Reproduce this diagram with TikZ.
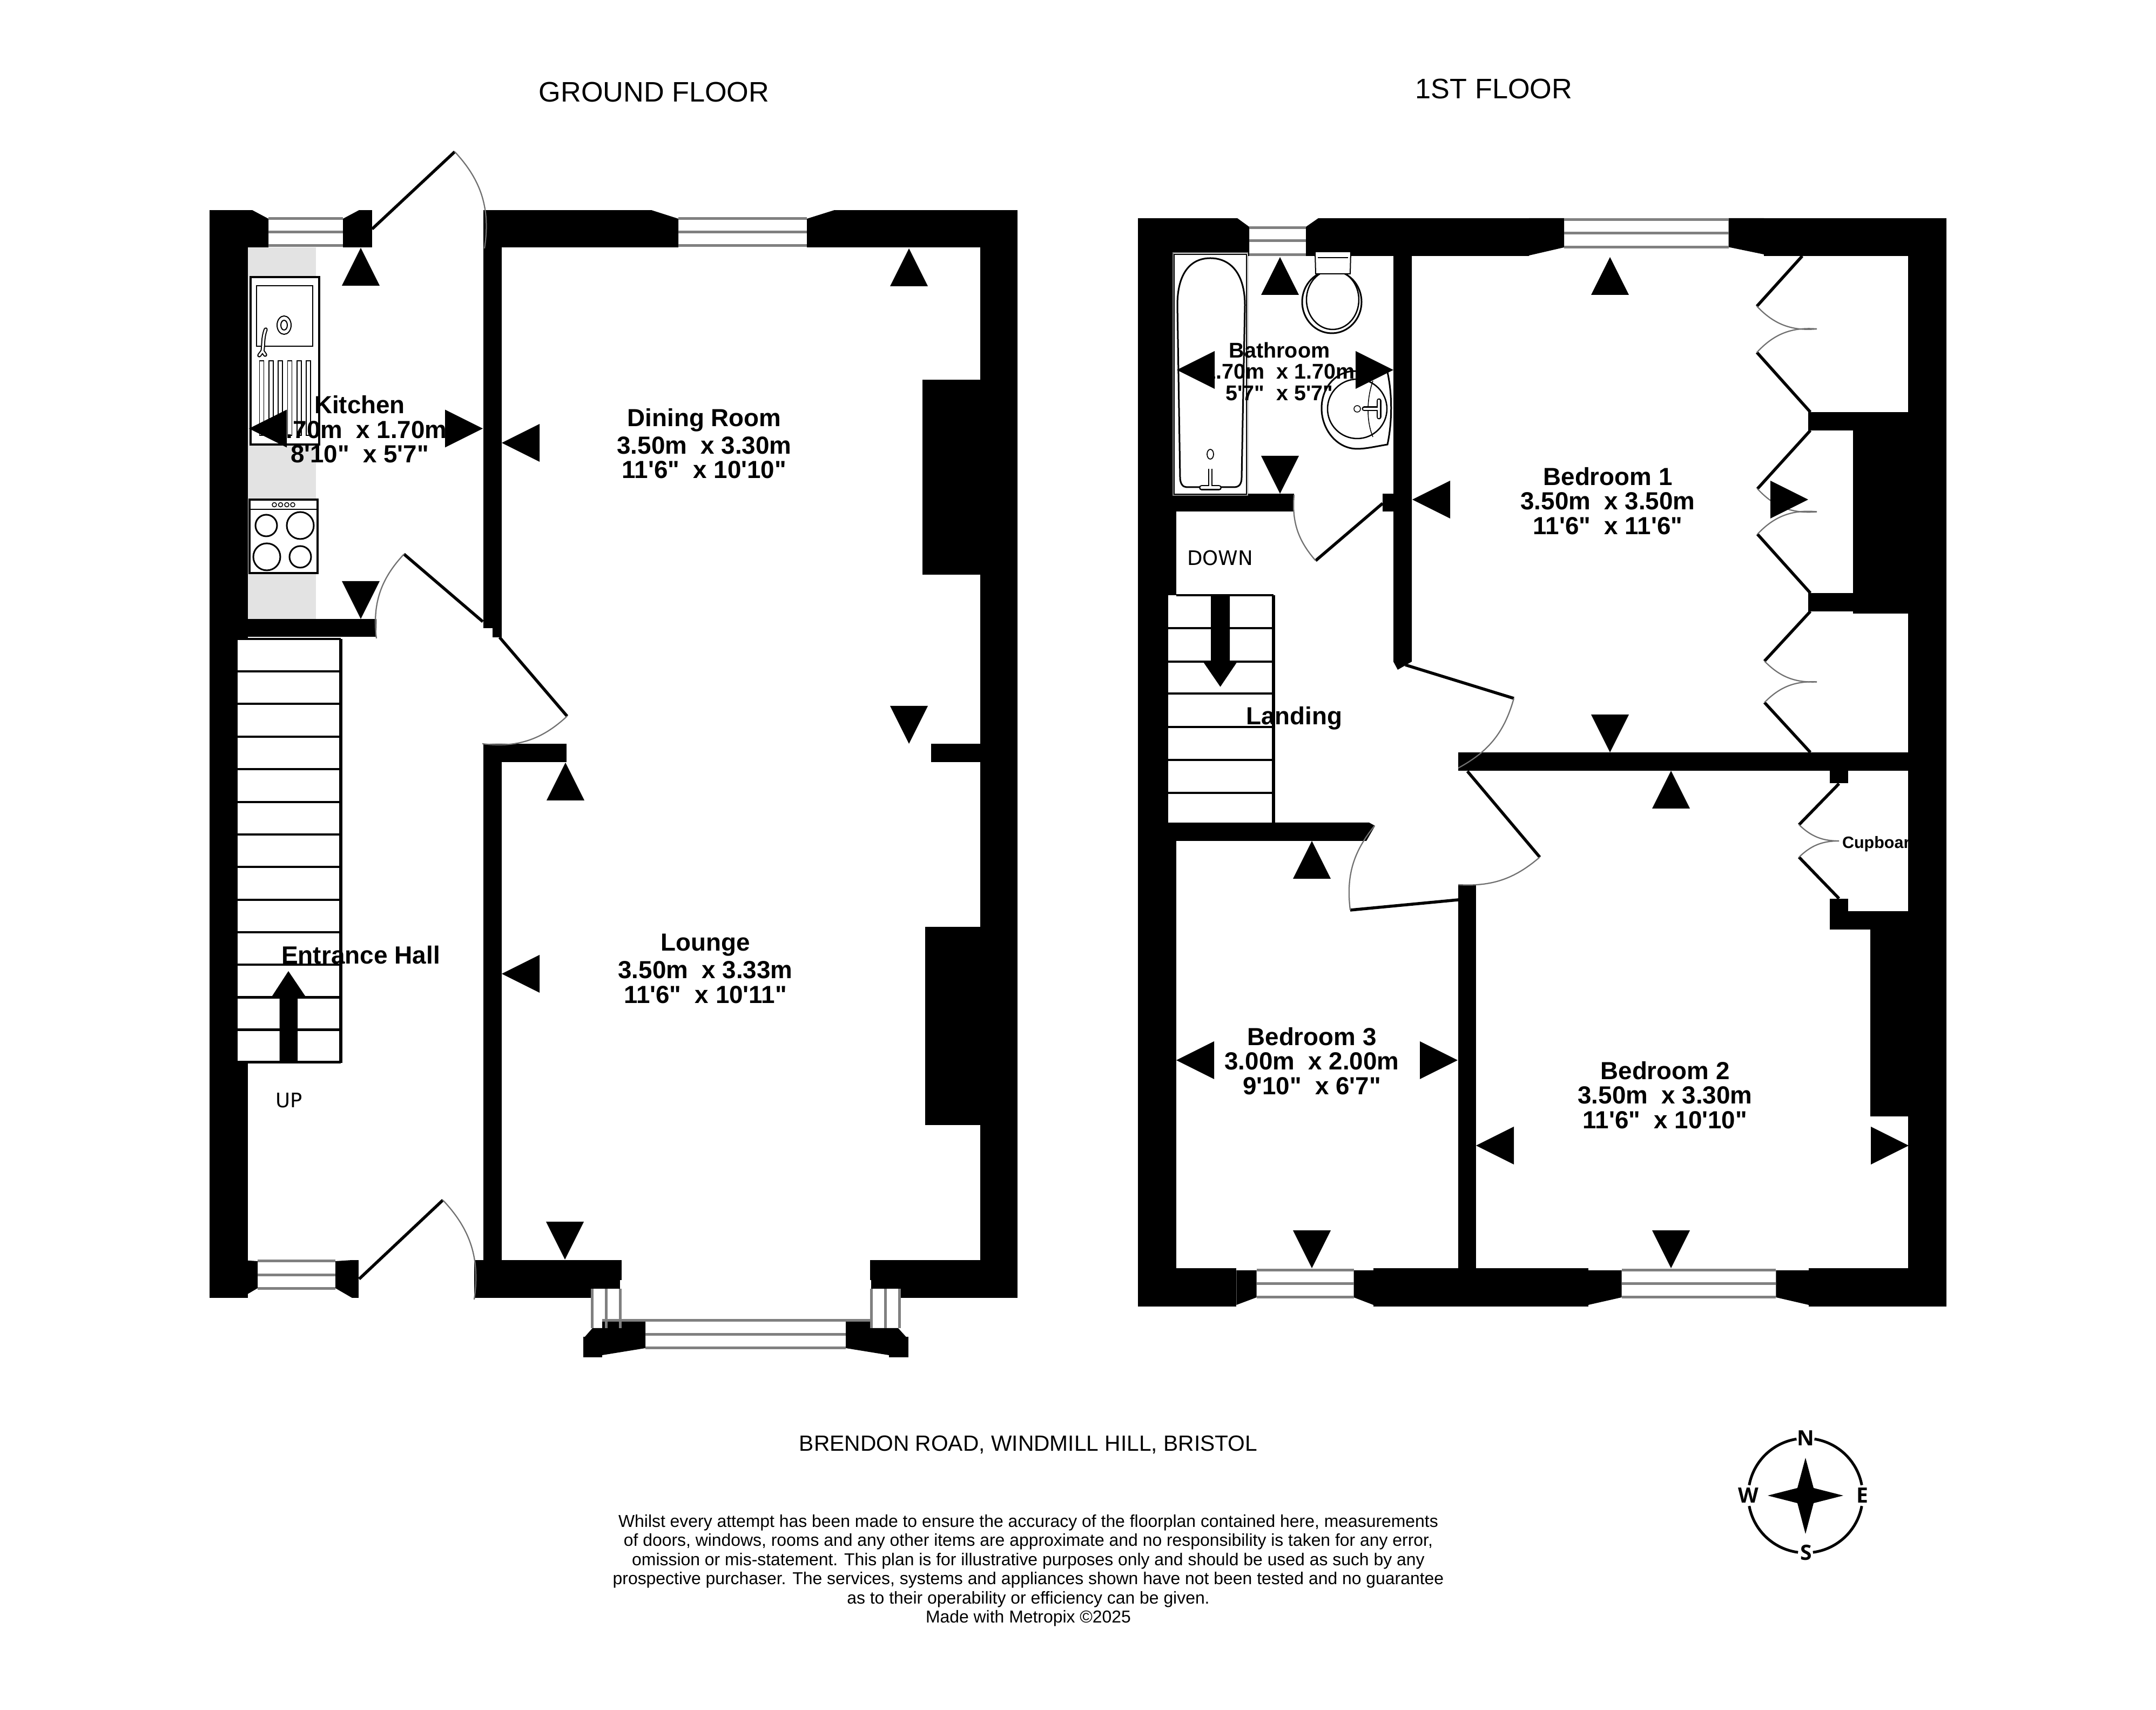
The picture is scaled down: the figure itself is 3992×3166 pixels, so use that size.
\documentclass[tikz,border=0pt]{standalone}
\usepackage{fontspec}
\newfontfamily\labfont{Liberation Sans}
\newfontfamily\stairfont{DejaVu Sans}
\newfontfamily\compfont{Open Sans}
\newcommand\ls{\rule[-0.18em]{0pt}{0.97em}}
\newcommand\markU[2]{\fill (#1,#2) -- (#1-35,#2+70) -- (#1+35,#2+70) -- cycle;}
\newcommand\markD[2]{\fill (#1,#2) -- (#1-35,#2-70) -- (#1+35,#2-70) -- cycle;}
\newcommand\markL[2]{\fill (#1,#2) -- (#1+70,#2-35) -- (#1+70,#2+35) -- cycle;}
\newcommand\markR[2]{\fill (#1,#2) -- (#1-70,#2-35) -- (#1-70,#2+35) -- cycle;}
\newcommand\wrect[4]{\fill (#1,#3) rectangle (#2,#4);}
\definecolor{winGrey}{HTML}{808080}
\definecolor{swingGrey}{HTML}{707070}
\definecolor{worktop}{HTML}{E3E3E3}
\tikzset{
  winline/.style={draw=winGrey,line width=1pt},
  leafline/.style={draw=black,line width=1.1pt},
  swingline/.style={draw=swingGrey,line width=0.45pt},
  treadline/.style={draw=black,line width=0.85pt},
  stringer/.style={draw=black,line width=1.1pt},
  fixture/.style={draw=black,fill=white,line width=0.8pt},
  roomlab/.style={font=\labfont\bfseries\fontsize{9.15pt}{9.1pt}\selectfont,align=center,inner sep=0pt},
  bathlab/.style={font=\labfont\bfseries\fontsize{7.9pt}{7.9pt}\selectfont,align=center,inner sep=0pt},
  titlelab/.style={font=\labfont\fontsize{10.45pt}{12pt}\selectfont,inner sep=0pt,anchor=base},
  steplab/.style={font=\stairfont\fontsize{7.4pt}{9pt}\selectfont,inner sep=0pt,anchor=base},
  complab/.style={font=\compfont\bfseries\fontsize{7.8pt}{9pt}\selectfont,inner sep=0pt},
}
\begin{document}
\begin{tikzpicture}[x=0.2pt,y=-0.2pt]
\useasboundingbox (0,0) rectangle (3992,3166);
\fill[white] (0,0) rectangle (3992,3166);
% ---- kitchen worktop
\fill[worktop] (459,458) rectangle (585,1146);
% ---- cupboard label, cut by the wall
\node[font=\labfont\bfseries\fontsize{6.1pt}{7pt}\selectfont,inner sep=0pt,anchor=base west] (cupboard) at (3410,1571) {Cupboard};
% ---- GROUND FLOOR walls
\wrect{388}{459}{389}{2403}
\wrect{388}{467}{389}{458}
\fill (467,389) -- (497,405) -- (497,458) -- (467,458) -- cycle;
\fill (635,405) -- (665,389) -- (665,458) -- (635,458) -- cycle;
\wrect{665}{689}{389}{458}
\wrect{388}{446.5}{2333}{2403}
\fill (446.5,2333) -- (477,2335) -- (477,2385) -- (446.5,2403) -- cycle;
\fill (621,2335) -- (652,2333) -- (652,2403) -- (621,2385) -- cycle;
\wrect{652}{663.5}{2333}{2403}
\wrect{895}{1206}{389}{458}
\fill (1206,389) -- (1256,405) -- (1256,458) -- (1206,458) -- cycle;
\fill (1494,405) -- (1545,389) -- (1545,458) -- (1494,458) -- cycle;
\wrect{1545}{1884}{389}{458}
\wrect{895}{929}{389}{1163}
\wrect{912}{929}{1163}{1180}
\wrect{459}{697}{1146}{1179}
\wrect{895}{1049}{1377}{1411}
\wrect{895}{929}{1377}{2333}
\wrect{878}{1150.5}{2333}{2370}
\wrect{878}{1094}{2333}{2403}
\wrect{1815}{1884}{389}{2403}
\wrect{1724}{1815}{1377}{1411}
\wrect{1708}{1815}{703}{1064}
\wrect{1713}{1815}{1716}{2083}
\wrect{1611}{1884}{2333}{2370}
\wrect{1667}{1884}{2333}{2403}
% bay
\wrect{1094.4}{1148}{2370}{2386}
\wrect{1613}{1667}{2370}{2386}
\fill (1097,2459) -- (1115,2459) -- (1115,2475) -- (1083,2475) -- cycle;
\wrect{1080}{1115}{2475}{2513}
\fill (1115,2445) -- (1195,2445) -- (1195,2496) -- (1115,2509) -- cycle;
\fill (1566,2445) -- (1612,2445) -- (1612,2475) -- (1646,2475) -- (1646,2509) -- (1566,2496) -- cycle;
\wrect{1646}{1682}{2475}{2513}
\fill (1612,2459) -- (1663,2459) -- (1677.5,2475) -- (1612,2475) -- cycle;
% ---- GROUND FLOOR windows
\foreach \yy in {405,430,455} \draw[winline] (497,\yy) -- (635,\yy);
\foreach \yy in {405,430,455} \draw[winline] (1256,\yy) -- (1494,\yy);
\foreach \yy in {2335,2361,2386} \draw[winline] (477,\yy) -- (621,\yy);
\draw[winline] (1115,2445) -- (1612,2445);
\foreach \yy in {2471,2496} \draw[winline] (1195,\yy) -- (1566,\yy);
\foreach \xx in {1096,1122.4,1148} \draw[winline] (\xx,2386) -- (\xx,2459);
\foreach \xx in {1613,1639,1665} \draw[winline] (\xx,2386) -- (\xx,2459);
% ---- GROUND stairs
\fill[white] (440,1183) rectangle (630,1966);
\draw[stringer] (631,1183) -- (631,1968);
\foreach \yy in {1183,1243,1303,1364,1424,1485,1545,1605,1666,1726,1786,1846.5,1906.5,1966.5}
  \draw[treadline] (440,\yy) -- (631,\yy);
\fill (517.7,1966) -- (517.7,1844) -- (504,1844) -- (534,1798) -- (565,1844) -- (551,1844) -- (551,1966) -- cycle;
% ---- sink
\draw[fixture] (464,513) rectangle (591,823.5);
\draw[black,line width=0.5pt] (475,529) rectangle (579,641);
\draw[black,line width=0.4pt] (526,602) ellipse [x radius=13,y radius=17];
\draw[black,line width=0.4pt] (526,602) ellipse [x radius=6,y radius=9];
\draw[black,line width=1.5pt,line cap=round] (492,610) .. controls (486,625) and (488,640) .. (486,650) -- (480,658);
\draw[black,line width=1.5pt,line cap=round] (486,650) -- (491,657);
\draw[white,line width=0.7pt,line cap=round] (492,610) .. controls (486,625) and (488,640) .. (486,650) -- (480,658);
\draw[white,line width=0.7pt,line cap=round] (486,650) -- (491,657);
\foreach \xx in {480.5,497.8,515,532.4,549.7,567} \draw[black,line width=0.35pt] (\xx,668) rectangle (\xx+8,806);
% ---- cooker
\draw[fixture] (462,925) rectangle (588,1061);
\draw[black,line width=0.5pt] (462,943) -- (588,943);
\foreach \xx in {508,519.5,531,542} \draw[black,line width=0.3pt] (\xx,934.5) circle (4);
\draw[black,line width=0.6pt] (493,973) circle (20);
\draw[black,line width=0.6pt] (556,973) circle (25);
\draw[black,line width=0.6pt] (494,1031) circle (25);
\draw[black,line width=0.6pt] (556,1031) circle (20);
% ---- GROUND doors
\draw[leafline] (689,424) -- (842,281);
\draw[swingline] (842,281) to[bend left=26] (897,460);
\draw[leafline] (894,1151) -- (748,1026);
\draw[swingline] (748,1026) to[bend right=25] (697,1182);
\draw[leafline] (925,1180) -- (1050,1326);
\draw[swingline] (1050,1326) to[bend left=25] (893,1377);
\draw[leafline] (665,2368) -- (820,2222);
\draw[swingline] (820,2222) to[bend left=26] (878,2406);
% ---- FIRST FLOOR walls
\wrect{2107}{2178}{404}{2419}
\wrect{2107}{2291}{404}{474}
\fill (2291,404) -- (2313,420) -- (2313,474) -- (2291,474) -- cycle;
\fill (2418,420) -- (2441,404) -- (2441,474) -- (2418,474) -- cycle;
\wrect{2441}{2831}{404}{474}
\fill (2831,404) -- (2896,404) -- (2896,458) -- (2831,473) -- cycle;
\fill (3200.7,404) -- (3266,404) -- (3266,471) -- (3200.7,457.5) -- cycle;
\wrect{3266}{3604}{404}{474}
\wrect{3533}{3604}{404}{2419}
\fill (2580,474) -- (2614,474) -- (2614,1225) -- (2588,1240) -- (2580,1225) -- cycle;
\wrect{2107}{2396}{914.5}{947.5}
\wrect{2560}{2580}{914.5}{947.5}
\fill (2107,1523) -- (2535,1523) -- (2546,1529) -- (2530,1557) -- (2107,1557) -- cycle;
\wrect{2700}{3604}{1393}{1427}
\wrect{2700}{2733}{1638}{2348}
% wardrobes, bedroom 1
\wrect{3348}{3533}{763}{797}
\wrect{3431}{3533}{763}{1136}
\wrect{3348}{3431}{1098}{1132}
% cupboard
\wrect{3388}{3421.5}{1427}{1450}
\wrect{3388}{3421.5}{1664}{1721}
\wrect{3421}{3533}{1687}{1721}
\wrect{3463}{3533}{1721}{2067}
% bottom wall
\wrect{2107}{2289.4}{2348}{2419}
\fill (2289.4,2352) -- (2326.7,2352) -- (2326.7,2402) -- (2289.4,2416) -- cycle;
\fill (2506.5,2352) -- (2543,2352) -- (2543,2416) -- (2506.5,2402) -- cycle;
\wrect{2543}{2940.7}{2348}{2419}
\fill (2940.7,2352) -- (3002.6,2352) -- (3002.6,2402) -- (2940.7,2416) -- cycle;
\fill (3288.4,2352) -- (3349,2352) -- (3349,2416) -- (3288.4,2402) -- cycle;
\wrect{3349}{3604}{2348}{2419}
% ---- FIRST FLOOR windows
\foreach \yy in {421.5,446,472} \draw[winline] (2313,\yy) -- (2418,\yy);
\foreach \yy in {407,432,458} \draw[winline] (2896,\yy) -- (3200.7,\yy);
\foreach \yy in {2352,2377,2402} \draw[winline] (2326.7,\yy) -- (2506.5,\yy);
\foreach \yy in {2352,2377,2402} \draw[winline] (3002.6,\yy) -- (3288.4,\yy);
% ---- FIRST stairs
\fill[white] (2162.5,1102) rectangle (2356,1523);
\draw[stringer] (2358,1102) -- (2358,1523);
\draw[treadline] (2178,1102) -- (2358,1102);
\foreach \yy in {1163,1225,1284,1346,1407,1468} \draw[treadline] (2162.5,\yy) -- (2358,\yy);
\fill (2242,1102) -- (2277,1102) -- (2277,1225) -- (2291,1225) -- (2259.5,1271.6) -- (2227.5,1225) -- (2242,1225) -- cycle;
% ---- bath
\draw[draw=gray,fill=white,line width=0.3pt] (2172,468) rectangle (2310.5,917);
\draw[black,line width=0.4pt] (2174,471) rectangle (2308,915);
\draw[black,line width=0.6pt] (2180,565) .. controls (2180,505) and (2205,478) .. (2241,478) .. controls (2277,478) and (2305,505) .. (2305,565) -- (2299,884) .. controls (2299,895) and (2295,902) .. (2285,902) -- (2197,902) .. controls (2190,902) and (2185,895) .. (2185,884) -- cycle;
\draw[black,line width=0.35pt] (2241,841) ellipse [x radius=6,y radius=9];
\draw[black,line width=1.7pt] (2241,868) -- (2241,900);
\draw[black,line width=2pt,line cap=round] (2225,903) -- (2257,903);
\draw[white,line width=0.9pt] (2241,868) -- (2241,900);
\draw[white,line width=1pt,line cap=round] (2225,903) -- (2257,903);
% ---- toilet
\draw[fixture,line width=0.6pt] (2466,559) ellipse [x radius=55,y radius=58];
\draw[black,line width=0.5pt] (2467.5,555) ellipse [x radius=48.5,y radius=55];
\draw[fixture,line width=0.4pt] (2435,466) -- (2501,466) -- (2500,507) -- (2436,507) -- cycle;
\draw[black,line width=0.3pt] (2440,477) -- (2496,477);
% ---- basin
\draw[fixture,line width=0.6pt] (2505,687) -- (2569,689) .. controls (2578,730) and (2578,780) .. (2569,823) .. controls (2550,826) and (2530,831) .. (2513,831) .. controls (2475,831) and (2447,795) .. (2447,756) .. controls (2447,720) and (2470,690) .. (2505,687) -- cycle;
\draw[black,line width=0.5pt] (2513,757) circle (55);
\draw[black,line width=0.3pt] (2542,705) .. controls (2530,740) and (2530,780) .. (2542,809);
\draw[black,line width=0.3pt,fill=white] (2513,757) circle (6);
\draw[black,line width=1.8pt,line cap=round] (2526,757) -- (2552,757);
\draw[black,line width=1.8pt,line cap=round] (2553,742) -- (2553,772);
\draw[white,line width=0.9pt,line cap=round] (2526,757) -- (2552,757);
\draw[white,line width=0.9pt,line cap=round] (2553,742) -- (2553,772);
% ---- FIRST doors
\draw[leafline] (2560,932) -- (2436,1038);
\draw[swingline] (2436,1038) to[bend left=23] (2396,916);
\draw[leafline] (2602,1231) -- (2803,1293);
\draw[swingline] (2803,1293) to[bend left=23] (2700,1422);
\draw[leafline] (2717,1428) -- (2851,1587);
\draw[swingline] (2851,1587) to[bend left=22] (2700,1638);
\draw[leafline] (2700,1666) -- (2500,1685);
\draw[swingline] (2500,1685) to[bend left=23] (2545,1529);
% wardrobe doors
\draw[leafline] (3337,474) -- (3253,567);
\draw[swingline] (3253,567) to[bend right=26] (3364,609);
\draw[leafline] (3352,763) -- (3253,652.5);
\draw[swingline] (3253,652.5) to[bend left=26] (3364,609);
\draw[leafline] (3352,797) -- (3254,905);
\draw[swingline] (3254,905) to[bend right=26] (3364,947.5);
\draw[leafline] (3352,1098) -- (3254,989);
\draw[swingline] (3254,989) to[bend left=26] (3364,947.5);
\draw[leafline] (3352,1132) -- (3267,1224);
\draw[swingline] (3267,1224) to[bend right=24] (3364,1262.5);
\draw[leafline] (3352,1393) -- (3267,1300.6);
\draw[swingline] (3267,1300.6) to[bend left=24] (3364,1262.5);
% cupboard doors
\draw[leafline] (3405,1451) -- (3331,1527);
\draw[swingline] (3331,1527) to[bend right=22] (3405,1557);
\draw[leafline] (3405,1663.5) -- (3331,1587);
\draw[swingline] (3331,1587) to[bend left=22] (3405,1557);
% ---- labels
\node[titlelab] (ground) at (1211,189) {GROUND FLOOR};
\node[titlelab] (first) at (2766,183) {1ST FLOOR};
\node[steplab] (up) at (535,2051) {UP};
\node[steplab] (down) at (2259,1047) {DOWN};
\node[roomlab] (kitchen) at (666,797.5) {\ls Kitchen\\\ls 2.70m\ \ x 1.70m\\\ls 8'10"\ \ x 5'7"};
\node[roomlab] (dining) at (1304,823.5) {\ls Dining Room\\\ls 3.50m\ \ x 3.30m\\\ls 11'6"\ \ x 10'10"};
\node[roomlab] (lounge) at (1306,1795) {\ls Lounge\\\ls 3.50m\ \ x 3.33m\\\ls 11'6"\ \ x 10'11"};
\node[bathlab] (bathroom) at (2369,689.5) {\ls Bathroom\\\ls 1.70m\ \ x 1.70m\\\ls 5'7"\ \ x 5'7"};
\node[roomlab] (bed1) at (2977,930) {\ls Bedroom 1\\\ls 3.50m\ \ x 3.50m\\\ls 11'6"\ \ x 11'6"};
\node[roomlab] (bed2) at (3083,2030) {\ls Bedroom 2\\\ls 3.50m\ \ x 3.30m\\\ls 11'6"\ \ x 10'10"};
\node[roomlab] (bed3) at (2429,1967) {\ls Bedroom 3\\\ls 3.00m\ \ x 2.00m\\\ls 9'10"\ \ x 6'7"};
\node[font=\labfont\bfseries\fontsize{9.2pt}{9.2pt}\selectfont,inner sep=0pt,anchor=base] (hall) at (668,1785) {Entrance Hall};
\node[font=\labfont\bfseries\fontsize{9.15pt}{9.2pt}\selectfont,inner sep=0pt,anchor=base] (landing) at (2396,1342) {Landing};
\node[font=\labfont\fontsize{8.15pt}{9pt}\selectfont,inner sep=0pt,anchor=base] (address) at (1904,2687) {BRENDON ROAD, WINDMILL HILL, BRISTOL};
\node[font=\labfont\fontsize{6.38pt}{7.1pt}\selectfont,align=center,inner sep=0pt] (disclaimer) at (1904,2906.5) {\ls Whilst every attempt has been made to ensure the accuracy of the floorplan contained here, measurements\\\ls of doors, windows, rooms and any other items are approximate and no responsibility is taken for any error,\\\ls omission or mis-statement. This plan is for illustrative purposes only and should be used as such by any\\\ls prospective purchaser. The services, systems and appliances shown have not been tested and no guarantee\\\ls as to their operability or efficiency can be given.\\\ls Made with Metropix ©2025};
% ---- measuring marks
\markU{668}{459} \markD{668}{1146} \markL{461}{793.5} \markR{894}{793.5}
\markU{1683}{460} \markD{1683}{1377} \markL{929}{820}
\markU{1047}{1412} \markD{1046}{2332} \markL{929}{1803}
\markU{2370}{476} \markD{2370}{914} \markL{2179}{685} \markR{2580}{685}
\markU{2981}{476} \markD{2981}{1393} \markL{2615}{925} \markR{3348}{925}
\markU{3094}{1427} \markD{3094}{2348} \markL{2733}{2121} \markR{3534}{2121}
\markU{2429}{1557} \markD{2429}{2348} \markL{2178}{1963} \markR{2699}{1963}
% ---- compass
\begin{scope}[shift={(3343,2769)},y=0.2pt]
  \draw[black,line width=1pt] (81:106) arc[start angle=81,end angle=10.5,radius=106];
  \draw[black,line width=1pt] (-10.5:106) arc[start angle=-10.5,end angle=-82.5,radius=106];
  \draw[black,line width=1pt] (-97.5:106) arc[start angle=-97.5,end angle=-169.5,radius=106];
  \draw[black,line width=1pt] (169.5:106) arc[start angle=169.5,end angle=99,radius=106];
  \fill (0,70) -- (15,14) -- (70,0) -- (15,-14) -- (0,-71) -- (-15,-14) -- (-70,0) -- (-15,14) -- cycle;
  \node[complab] (cn) at (0,106) {N};
  \node[complab] (ce) at (105,0) {E};
  \node[complab] (cs) at (1,-106) {S};
  \node[complab] (cw) at (-106,0) {W};
\end{scope}
\end{tikzpicture}
\end{document}
